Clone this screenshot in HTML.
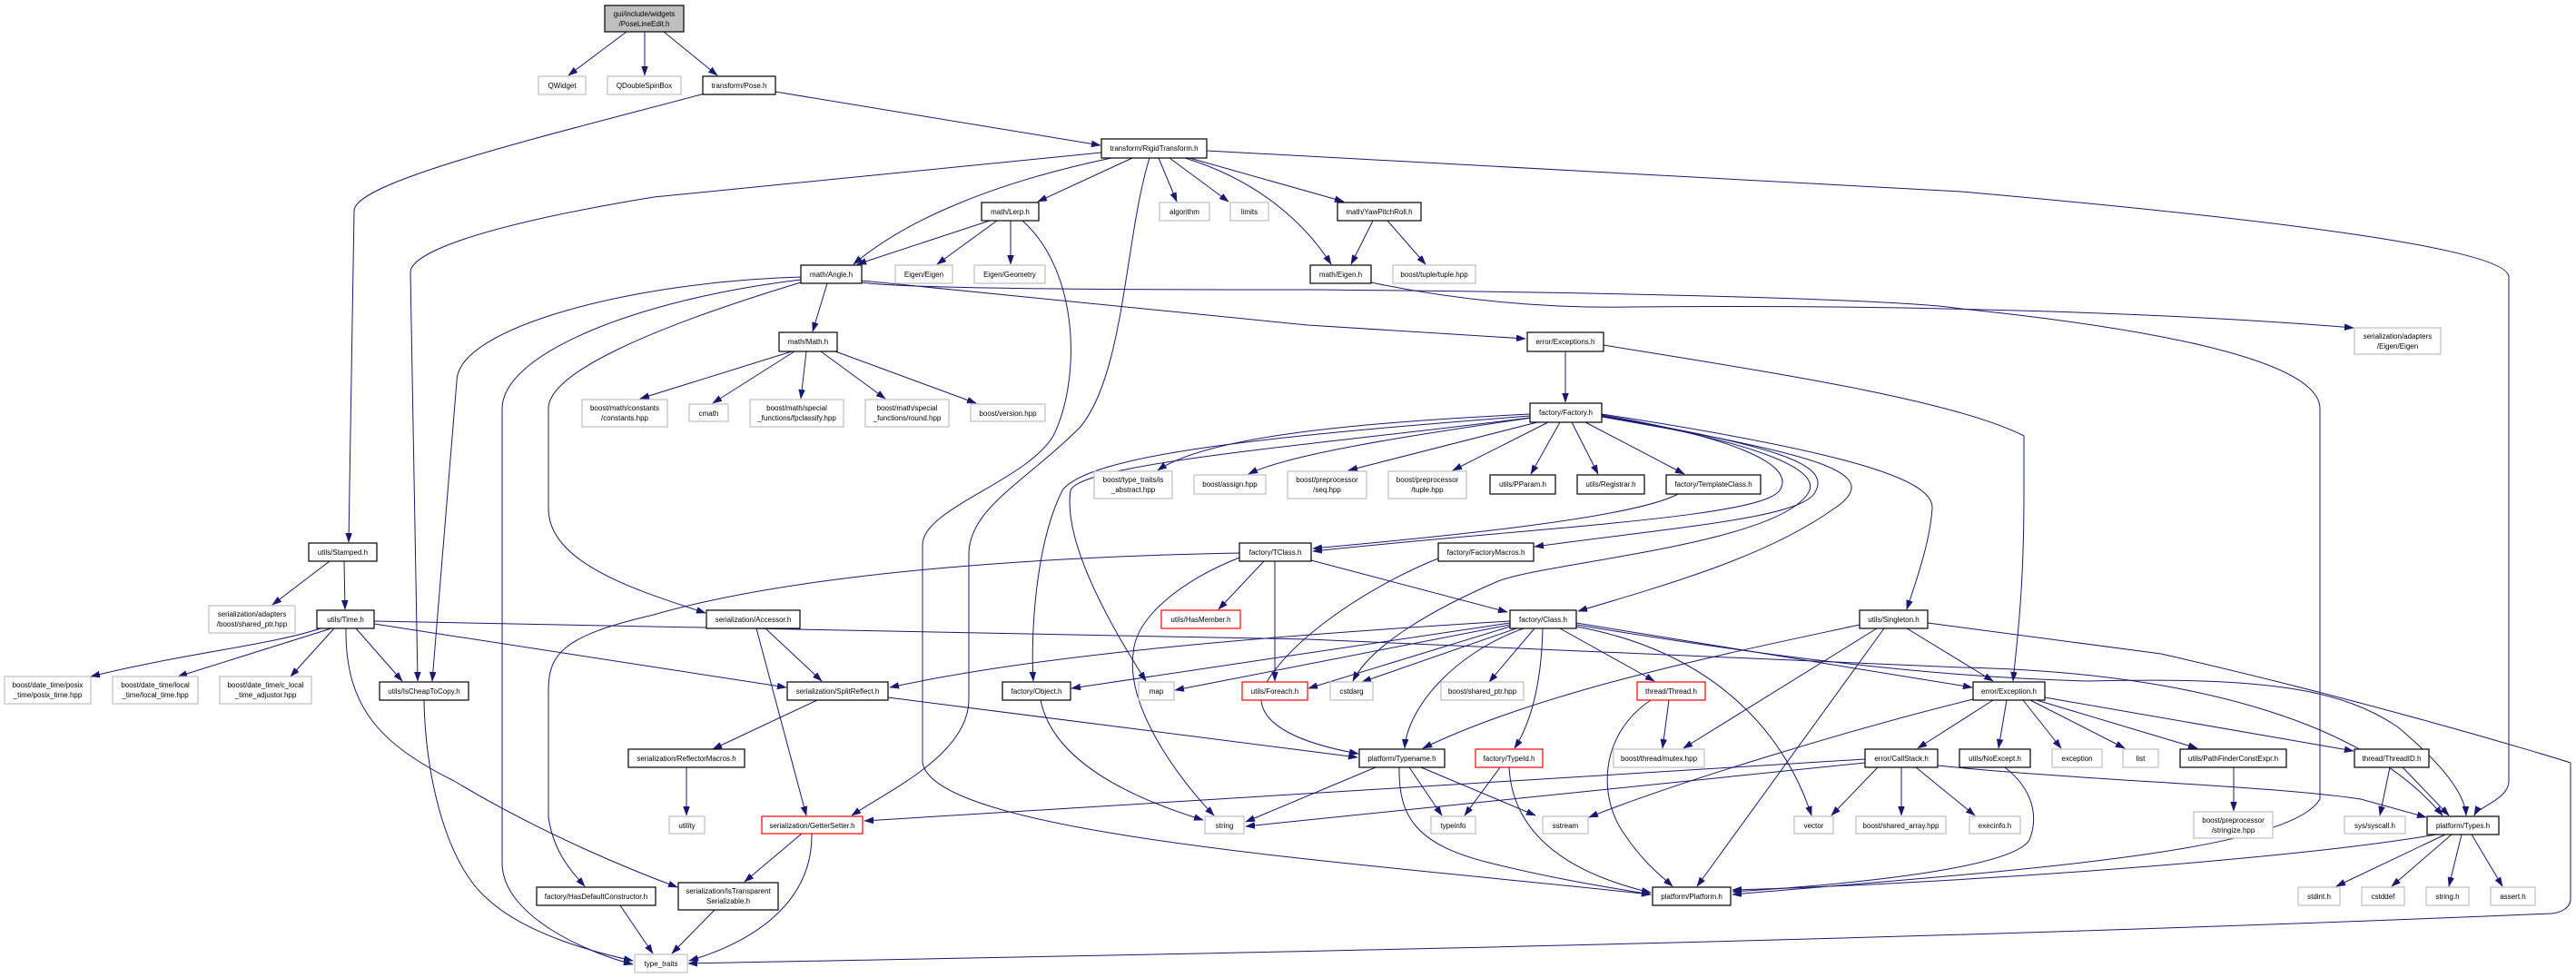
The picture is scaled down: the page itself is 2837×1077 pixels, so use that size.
<!DOCTYPE html>
<html><head><meta charset="utf-8"><style>
html,body{margin:0;padding:0;background:#fff}
svg{display:block}
text{font-family:"Liberation Sans",sans-serif;font-size:8px;fill:#000;text-anchor:middle}
.b{fill:#fff;stroke:#000;stroke-width:1.2}
.g{fill:#fff;stroke:#bfbfbf;stroke-width:1.2}
.r{fill:#fff;stroke:#ff0000;stroke-width:1.2}
.e path{fill:none;stroke:#191970;stroke-width:1;marker-end:url(#a)}
</style></head><body>
<svg width="2837" height="1077" viewBox="0 0 2837 1077" xmlns="http://www.w3.org/2000/svg">
<defs><marker id="a" markerUnits="userSpaceOnUse" markerWidth="11" markerHeight="8" refX="10" refY="3.5" orient="auto"><path d="M0,0 L10,3.5 L0,7z" fill="#191970" stroke="#191970" stroke-width="0.5"/></marker></defs>
<g class="e">
<path d="M690,35 L626,83"/>
<path d="M710,35 L710,83"/>
<path d="M731,35 L790,83"/>
<path d="M776,103 C600,150 390,200 390,232 L384,597"/>
<path d="M854,101 L1212,160"/>
<path d="M1224,174 C1100,200 1000,240 940,291"/>
<path d="M1247,174 L1143,222"/>
<path d="M1276,174 L1296,222"/>
<path d="M1288,174 L1353,222"/>
<path d="M1310,174 L1480,222"/>
<path d="M1305,174 C1390,200 1440,250 1466,291"/>
<path d="M1329,166 L2160,211 C2600,250 2763,280 2763,305 L2763,860 C2763,880 2730,888 2725,898"/>
<path d="M1213,168 L720,217 C520,250 452,280 452,300 L460,750"/>
<path d="M1266,174 C1239,260 1239,410 1190,470 C1130,530 1067,560 1067,610 L1067,770 C1067,830 980,870 938,898"/>
<path d="M1090,243 L944,291"/>
<path d="M1098,243 L1032,291"/>
<path d="M1113,243 L1113,291"/>
<path d="M1126,243 C1190,300 1190,420 1160,480 C1130,530 1016,560 1016,600 L1016,840 C1030,920 1500,950 1818,985"/>
<path d="M911,312 L895,365"/>
<path d="M949,309 L1440,358 L1680,373"/>
<path d="M949,311 C1000,319 1300,319 1440,319 C1800,322 2100,330 2160,340 C2450,370 2555,410 2555,450 L2555,880 C2520,940 2200,960 1908,985"/>
<path d="M882,305 C700,310 503,360 503,420 L476,750"/>
<path d="M882,308 C700,330 553,390 553,450 L553,950 C553,1010 650,1050 697,1062"/>
<path d="M882,311 C720,360 604,410 604,450 L604,560 C604,620 700,650 777,675"/>
<path d="M872,387 L705,439"/>
<path d="M875,387 L785,444"/>
<path d="M888,387 L882,439"/>
<path d="M904,387 L975,439"/>
<path d="M920,387 L1075,444"/>
<path d="M1512,243 L1488,291"/>
<path d="M1528,243 L1570,291"/>
<path d="M1510,311 C1600,330 1700,340 1800,338 C2100,335 2400,345 2592,361"/>
<path d="M1724,387 L1724,443"/>
<path d="M1766,380 C1950,410 2150,440 2229,480 L2229,540 C2229,650 2222,700 2217,750"/>
<path d="M1685,456 C1500,465 1330,480 1275,518"/>
<path d="M1687,460 C1550,480 1420,500 1375,522"/>
<path d="M1693,465 L1485,518"/>
<path d="M1705,465 L1600,518"/>
<path d="M1718,465 L1686,522"/>
<path d="M1731,465 L1760,522"/>
<path d="M1746,465 L1855,522"/>
<path d="M1764,457 C1900,480 1980,510 1960,540 C1940,570 1700,580 1446,607"/>
<path d="M1764,458 C1950,490 2015,510 2000,540 C1990,570 1850,580 1690,602"/>
<path d="M1764,459 C2000,500 2080,520 2020,560 C1950,610 1850,640 1738,673"/>
<path d="M1764,456 C2050,500 2130,530 2128,560 C2125,600 2110,640 2100,671"/>
<path d="M1685,458 C1400,480 1200,500 1170,540 C1140,600 1135,700 1138,750"/>
<path d="M1685,460 C1450,490 1190,510 1179,540 C1170,600 1230,700 1262,750"/>
<path d="M1764,458 C1950,490 2010,520 1990,545 C1950,600 1700,620 1650,640 C1580,670 1510,710 1490,750"/>
<path d="M1584,615 C1520,640 1420,700 1390,760 C1380,800 1440,820 1496,830"/>
<path d="M1848,544 C1800,570 1600,590 1446,604"/>
<path d="M1392,618 L1342,671"/>
<path d="M1404,618 L1404,750"/>
<path d="M1444,617 L1660,674"/>
<path d="M1365,614 C1300,640 1250,680 1248,720 C1240,780 1300,860 1337,898"/>
<path d="M1365,609 C1200,612 900,625 720,677 C620,700 604,720 604,760 L604,900 C610,940 630,960 644,976"/>
<path d="M1663,684 C1400,700 1150,720 980,757"/>
<path d="M1663,686 L1180,758"/>
<path d="M1663,688 L1294,760"/>
<path d="M1663,690 L1441,758"/>
<path d="M1670,692 L1500,751"/>
<path d="M1690,692 L1640,751"/>
<path d="M1678,692 C1600,720 1550,780 1547,824"/>
<path d="M1699,692 C1698,740 1690,790 1668,824"/>
<path d="M1718,692 L1822,750"/>
<path d="M1736,686 L2172,757"/>
<path d="M1736,690 C1900,720 1970,820 1995,898"/>
<path d="M1736,688 C1900,715 2100,745 2300,750 C2500,745 2580,760 2640,800 C2700,850 2715,880 2716,898"/>
<path d="M2048,688 C1900,720 1700,760 1567,824"/>
<path d="M2067,692 L1854,824"/>
<path d="M2075,692 L1869,976"/>
<path d="M2100,692 L2195,750"/>
<path d="M2123,686 L2380,720 C2600,770 2800,830 2831,840 L2831,990 C2831,1000 2820,1005 2810,1006 C2000,1040 1200,1052 758,1061"/>
<path d="M1838,771 L1831,824"/>
<path d="M1818,771 C1760,810 1760,880 1790,920 C1810,950 1830,965 1842,976"/>
<path d="M1552,845 L1588,898"/>
<path d="M1565,845 L1691,898"/>
<path d="M1515,845 L1372,905"/>
<path d="M1541,845 C1540,900 1560,930 1640,950 C1720,970 1790,980 1818,985"/>
<path d="M1652,845 L1613,898"/>
<path d="M1662,845 C1665,900 1700,955 1818,983"/>
<path d="M2195,771 L2112,824"/>
<path d="M2210,771 L2201,824"/>
<path d="M2228,771 L2270,824"/>
<path d="M2236,771 L2340,824"/>
<path d="M2243,771 L2420,824"/>
<path d="M2252,768 L2592,827"/>
<path d="M2173,770 C2050,800 1850,860 1750,900"/>
<path d="M2054,836 L952,904"/>
<path d="M2054,840 L1372,910"/>
<path d="M2068,845 L2017,898"/>
<path d="M2094,845 L2094,898"/>
<path d="M2110,845 L2175,898"/>
<path d="M2134,843 C2300,860 2500,865 2600,880 L2672,900"/>
<path d="M2208,845 C2240,870 2245,900 2235,925 C2220,950 2100,970 1908,982"/>
<path d="M2460,845 L2460,893"/>
<path d="M2632,845 L2621,898"/>
<path d="M2646,845 L2697,898"/>
<path d="M2683,919 C2500,950 2100,975 1908,980"/>
<path d="M2693,919 L2573,976"/>
<path d="M2700,919 L2634,976"/>
<path d="M2711,919 L2697,976"/>
<path d="M2722,919 L2756,976"/>
<path d="M363,618 L300,666"/>
<path d="M379,618 L380,671"/>
<path d="M353,692 C300,710 200,720 100,745"/>
<path d="M365,692 L196,745"/>
<path d="M368,692 L320,745"/>
<path d="M392,692 L443,750"/>
<path d="M381,692 C380,780 420,820 500,860 C600,920 700,960 746,977"/>
<path d="M412,687 L866,757"/>
<path d="M412,684 L1440,704 L2160,735 C2400,740 2600,790 2690,898"/>
<path d="M467,771 C468,850 490,950 537,990 C580,1030 660,1050 697,1058"/>
<path d="M843,692 L905,750"/>
<path d="M833,692 L888,898"/>
<path d="M900,771 L785,825"/>
<path d="M978,768 L1495,834"/>
<path d="M756,845 L756,898"/>
<path d="M883,918 L820,971"/>
<path d="M894,918 C895,1000 820,1040 759,1058"/>
<path d="M787,1002 L740,1050"/>
<path d="M683,997 L719,1050"/>
<path d="M1146,771 C1160,840 1250,880 1325,903"/>
</g>
<g>
<rect x="666" y="6" width="87" height="29" fill="#bfbfbf" stroke="#000" stroke-width="1.2"/><text x="709.5" y="18">gui/include/widgets</text><text x="709.5" y="29">/PoseLineEdit.h</text>
<rect class="g" x="593" y="84" width="52" height="20"/><text x="619" y="97">QWidget</text>
<rect class="g" x="669" y="84" width="81" height="20"/><text x="709.5" y="97">QDoubleSpinBox</text>
<rect class="b" x="774" y="84" width="80" height="20"/><text x="814" y="97">transform/Pose.h</text>
<rect class="b" x="1213" y="153" width="116" height="21"/><text x="1271" y="166">transform/RigidTransform.h</text>
<rect class="b" x="1081" y="223" width="63" height="20"/><text x="1112.5" y="236">math/Lerp.h</text>
<rect class="g" x="1277" y="223" width="55" height="20"/><text x="1304.5" y="236">algorithm</text>
<rect class="g" x="1355" y="223" width="42" height="20"/><text x="1376" y="236">limits</text>
<rect class="b" x="1473" y="223" width="92" height="20"/><text x="1519" y="236">math/YawPitchRoll.h</text>
<rect class="b" x="882" y="292" width="67" height="20"/><text x="915.5" y="305">math/Angle.h</text>
<rect class="g" x="986" y="292" width="63" height="20"/><text x="1017.5" y="305">Eigen/Eigen</text>
<rect class="g" x="1073" y="292" width="78" height="20"/><text x="1112" y="305">Eigen/Geometry</text>
<rect class="b" x="1443" y="292" width="67" height="20"/><text x="1476.5" y="305">math/Eigen.h</text>
<rect class="g" x="1534" y="292" width="91" height="20"/><text x="1579.5" y="305">boost/tuple/tuple.hpp</text>
<rect class="b" x="858" y="366" width="64" height="21"/><text x="890" y="379">math/Math.h</text>
<rect class="b" x="1682" y="366" width="84" height="21"/><text x="1724" y="379">error/Exceptions.h</text>
<rect class="g" x="2593" y="361" width="95" height="29"/><text x="2640.5" y="373">serialization/adapters</text><text x="2640.5" y="384">/Eigen/Eigen</text>
<rect class="g" x="641" y="440" width="94" height="30"/><text x="688" y="452">boost/math/constants</text><text x="688" y="463">/constants.hpp</text>
<rect class="g" x="759" y="445" width="43" height="19"/><text x="780.5" y="458">cmath</text>
<rect class="g" x="826" y="440" width="103" height="30"/><text x="877.5" y="452">boost/math/special</text><text x="877.5" y="463">_functions/fpclassify.hpp</text>
<rect class="g" x="953" y="440" width="92" height="30"/><text x="999" y="452">boost/math/special</text><text x="999" y="463">_functions/round.hpp</text>
<rect class="g" x="1069" y="445" width="82" height="19"/><text x="1110" y="458">boost/version.hpp</text>
<rect class="b" x="1685" y="444" width="79" height="21"/><text x="1724.5" y="457">factory/Factory.h</text>
<rect class="g" x="1205" y="519" width="86" height="30"/><text x="1248" y="531">boost/type_traits/is</text><text x="1248" y="542">_abstract.hpp</text>
<rect class="g" x="1315" y="523" width="79" height="21"/><text x="1354.5" y="536">boost/assign.hpp</text>
<rect class="g" x="1418" y="519" width="87" height="30"/><text x="1461.5" y="531">boost/preprocessor</text><text x="1461.5" y="542">/seq.hpp</text>
<rect class="g" x="1529" y="519" width="86" height="30"/><text x="1572" y="531">boost/preprocessor</text><text x="1572" y="542">/tuple.hpp</text>
<rect class="b" x="1641" y="523" width="72" height="21"/><text x="1677" y="536">utils/PParam.h</text>
<rect class="b" x="1737" y="523" width="74" height="21"/><text x="1774" y="536">utils/Registrar.h</text>
<rect class="b" x="1835" y="523" width="104" height="21"/><text x="1887" y="536">factory/TemplateClass.h</text>
<rect class="b" x="340" y="598" width="75" height="20"/><text x="377.5" y="611">utils/Stamped.h</text>
<rect class="b" x="1365" y="598" width="79" height="20"/><text x="1404.5" y="611">factory/TClass.h</text>
<rect class="b" x="1584" y="598" width="105" height="20"/><text x="1636.5" y="611">factory/FactoryMacros.h</text>
<rect class="g" x="230" y="667" width="95" height="30"/><text x="277.5" y="679">serialization/adapters</text><text x="277.5" y="690">/boost/shared_ptr.hpp</text>
<rect class="b" x="349" y="672" width="63" height="20"/><text x="380.5" y="685">utils/Time.h</text>
<rect class="b" x="778" y="672" width="103" height="20"/><text x="829.5" y="685">serialization/Accessor.h</text>
<rect class="r" x="1279" y="672" width="87" height="20"/><text x="1322.5" y="685">utils/HasMember.h</text>
<rect class="b" x="1663" y="672" width="73" height="20"/><text x="1699.5" y="685">factory/Class.h</text>
<rect class="b" x="2048" y="672" width="75" height="20"/><text x="2085.5" y="685">utils/Singleton.h</text>
<rect class="g" x="5" y="745" width="95" height="30"/><text x="52.5" y="757">boost/date_time/posix</text><text x="52.5" y="768">_time/posix_time.hpp</text>
<rect class="g" x="124" y="745" width="94" height="30"/><text x="171" y="757">boost/date_time/local</text><text x="171" y="768">_time/local_time.hpp</text>
<rect class="g" x="242" y="745" width="101" height="30"/><text x="292.5" y="757">boost/date_time/c_local</text><text x="292.5" y="768">_time_adjustor.hpp</text>
<rect class="b" x="418" y="751" width="98" height="20"/><text x="467" y="764">utils/IsCheapToCopy.h</text>
<rect class="b" x="867" y="751" width="111" height="20"/><text x="922.5" y="764">serialization/SplitReflect.h</text>
<rect class="b" x="1104" y="751" width="75" height="20"/><text x="1141.5" y="764">factory/Object.h</text>
<rect class="g" x="1254" y="751" width="39" height="20"/><text x="1273.5" y="764">map</text>
<rect class="r" x="1368" y="751" width="72" height="20"/><text x="1404" y="764">utils/Foreach.h</text>
<rect class="g" x="1465" y="751" width="47" height="20"/><text x="1488.5" y="764">cstdarg</text>
<rect class="g" x="1587" y="751" width="91" height="20"/><text x="1632.5" y="764">boost/shared_ptr.hpp</text>
<rect class="r" x="1803" y="751" width="75" height="20"/><text x="1840.5" y="764">thread/Thread.h</text>
<rect class="b" x="2173" y="751" width="79" height="20"/><text x="2212.5" y="764">error/Exception.h</text>
<rect class="b" x="692" y="825" width="128" height="20"/><text x="756" y="838">serialization/ReflectorMacros.h</text>
<rect class="b" x="1497" y="825" width="94" height="20"/><text x="1544" y="838">platform/Typename.h</text>
<rect class="r" x="1625" y="825" width="74" height="20"/><text x="1662" y="838">factory/TypeId.h</text>
<rect class="g" x="1777" y="825" width="100" height="20"/><text x="1827" y="838">boost/thread/mutex.hpp</text>
<rect class="b" x="2054" y="825" width="80" height="20"/><text x="2094" y="838">error/CallStack.h</text>
<rect class="b" x="2158" y="825" width="78" height="20"/><text x="2197" y="838">utils/NoExcept.h</text>
<rect class="g" x="2260" y="825" width="55" height="20"/><text x="2287.5" y="838">exception</text>
<rect class="g" x="2338" y="825" width="39" height="20"/><text x="2357.5" y="838">list</text>
<rect class="b" x="2401" y="825" width="117" height="20"/><text x="2459.5" y="838">utils/PathFinderConstExpr.h</text>
<rect class="b" x="2593" y="825" width="82" height="20"/><text x="2634" y="838">thread/ThreadID.h</text>
<rect class="g" x="737" y="899" width="39" height="19"/><text x="756.5" y="912">utility</text>
<rect class="r" x="839" y="899" width="111" height="19"/><text x="894.5" y="912">serialization/GetterSetter.h</text>
<rect class="g" x="1327" y="899" width="43" height="19"/><text x="1348.5" y="912">string</text>
<rect class="g" x="1576" y="899" width="49" height="19"/><text x="1600.5" y="912">typeinfo</text>
<rect class="g" x="1699" y="899" width="50" height="19"/><text x="1724" y="912">sstream</text>
<rect class="g" x="1976" y="899" width="43" height="19"/><text x="1997.5" y="912">vector</text>
<rect class="g" x="2044" y="899" width="99" height="19"/><text x="2093.5" y="912">boost/shared_array.hpp</text>
<rect class="g" x="2169" y="899" width="56" height="19"/><text x="2197" y="912">execinfo.h</text>
<rect class="g" x="2416" y="894" width="87" height="29"/><text x="2459.5" y="906">boost/preprocessor</text><text x="2459.5" y="917">/stringize.hpp</text>
<rect class="g" x="2582" y="899" width="67" height="19"/><text x="2615.5" y="912">sys/syscall.h</text>
<rect class="b" x="2673" y="899" width="79" height="20"/><text x="2712.5" y="912">platform/Types.h</text>
<rect class="b" x="747" y="972" width="110" height="30"/><text x="802" y="984">serialization/IsTransparent</text><text x="802" y="995">Serializable.h</text>
<rect class="b" x="591" y="977" width="131" height="20"/><text x="656.5" y="990">factory/HasDefaultConstructor.h</text>
<rect class="b" x="1820" y="977" width="86" height="20"/><text x="1863" y="990">platform/Platform.h</text>
<rect class="g" x="699" y="1051" width="58" height="20"/><text x="728" y="1064">type_traits</text>
<rect class="g" x="2531" y="977" width="46" height="20"/><text x="2554" y="990">stdint.h</text>
<rect class="g" x="2601" y="977" width="47" height="20"/><text x="2624.5" y="990">cstddef</text>
<rect class="g" x="2672" y="977" width="47" height="20"/><text x="2695.5" y="990">string.h</text>
<rect class="g" x="2743" y="977" width="49" height="20"/><text x="2767.5" y="990">assert.h</text>
</g>
</svg>
</body></html>
